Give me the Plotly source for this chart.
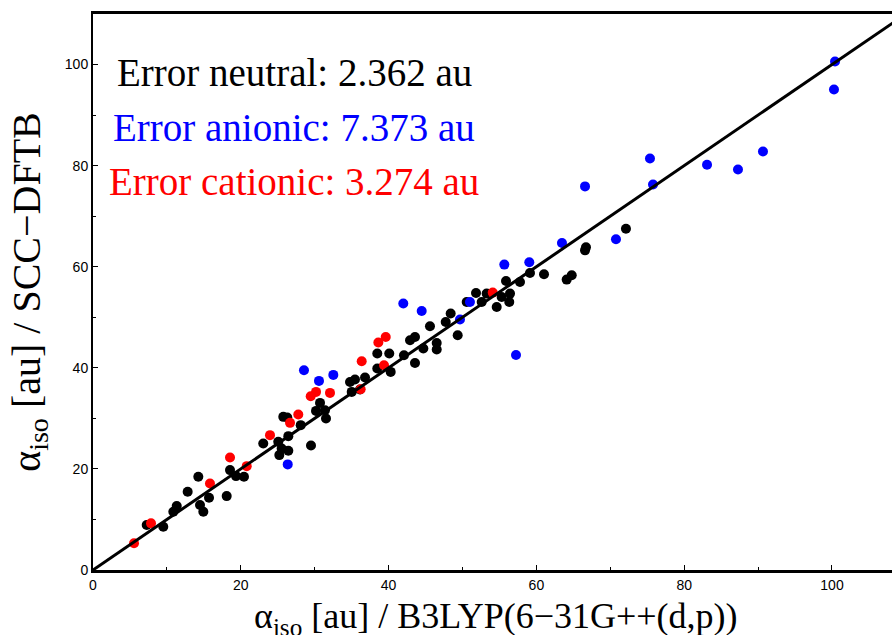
import plotly.graph_objects as go

# Neutral (black)
neutral_x = [7.27, 9.51, 10.87, 11.33, 12.81, 14.25, 14.48, 14.93, 15.70, 18.09, 18.54, 19.35, 20.43,
             23.04, 25.07, 25.53, 26.43, 25.21, 25.75, 26.29, 28.11, 26.43, 29.50, 30.72, 31.39, 30.18,
             31.53, 35.01, 36.13, 34.78, 35.45, 36.81, 38.47, 40.28, 38.47, 40.09, 42.08, 43.57, 42.90,
             43.57, 44.70, 46.51, 46.51, 45.60, 47.73, 48.40, 49.35, 50.57, 51.83, 53.27, 52.60, 54.63,
             55.30, 56.43, 56.33, 55.89, 57.78, 59.13, 61.03, 64.10, 64.78, 66.58, 66.71, 72.12]
neutral_y = [8.89, 8.56, 11.52, 12.65, 15.47, 18.44, 12.85, 11.52, 14.29, 14.62, 19.76, 18.58, 18.44,
             25.04, 25.36, 24.05, 23.58, 22.73, 30.30, 30.18, 28.66, 26.48, 24.64, 33.06, 31.62, 31.48,
             29.98, 35.24, 35.71, 37.21, 37.69, 38.08, 39.86, 39.19, 42.83, 42.83, 42.49, 40.97, 45.45,
             46.11, 43.81, 44.92, 43.62, 48.22, 49.07, 50.73, 46.44, 53.02, 54.80, 54.68, 53.02, 52.04,
             54.01, 54.68, 53.02, 57.17, 56.98, 58.75, 58.50, 57.45, 58.30, 63.24, 63.83, 67.51]

# Cationic (red)
cation_x = [5.55, 7.85, 15.83, 18.54, 20.80, 23.95, 26.66, 27.78, 29.46, 30.18, 32.07, 36.22, 36.36,
            39.38, 38.61, 39.61, 54.09]
cation_y = [5.28, 9.23, 17.13, 22.27, 20.55, 26.68, 29.11, 30.77, 34.39, 35.24, 35.04, 35.77, 41.30,
            40.51, 45.00, 46.11, 54.88]

# Anionic (blue)
anion_x = [100.41, 100.27, 90.66, 87.28, 83.09, 75.37, 75.78, 66.58, 70.77, 63.46, 59.04, 55.66, 51.01,
           49.66, 57.24, 44.48, 41.99, 28.55, 30.58, 32.52, 26.35]
anion_y = [100.59, 95.06, 82.81, 79.25, 80.16, 81.42, 76.28, 75.89, 65.42, 64.68, 60.87, 60.42, 53.02,
           49.55, 42.55, 51.24, 52.71, 39.53, 37.41, 38.60, 20.89]

diag = [0, 110]

labels = ["Error neutral: 2.362 au", "Error anionic: 7.373 au", "Error cationic: 3.274 au"]
label_colors = ["black", "#0000ff", "#ff0000"]
label_y = [98.4, 87.6, 76.9]

x_title = "α<sub>iso</sub> [au] / B3LYP(6−31G++(d,p))"
y_title = "α<sub>iso</sub> [au] / SCC−DFTB"

fig = go.Figure()
fig.add_trace(go.Scatter(x=neutral_x, y=neutral_y, mode="markers",
                         marker=dict(color="black", size=10, line=dict(width=0)), showlegend=False))
fig.add_trace(go.Scatter(x=cation_x, y=cation_y, mode="markers",
                         marker=dict(color="#ff0000", size=10, line=dict(width=0)), showlegend=False))
fig.add_trace(go.Scatter(x=anion_x, y=anion_y, mode="markers",
                         marker=dict(color="#0000ff", size=10, line=dict(width=0)), showlegend=False))
fig.add_trace(go.Scatter(x=diag, y=diag, mode="lines",
                         line=dict(color="black", width=3), showlegend=False))

for t, c, yy in zip(labels, label_colors, label_y):
    fig.add_annotation(x=27.2, y=yy, xref="x", yref="y", text=t, showarrow=False,
                       font=dict(family="Liberation Serif", size=39, color=c),
                       xanchor="center", yanchor="middle")

# x-axis title as annotation for precise placement
fig.add_annotation(x=0.504, y=-0.087, xref="paper", yref="paper", text=x_title, showarrow=False,
                   font=dict(family="Liberation Serif", size=36, color="black"),
                   xanchor="center", yanchor="middle")

tickfont = dict(family="Liberation Sans", size=14, color="black")
fig.update_xaxes(range=[0, 108.12], tickvals=[0, 20, 40, 60, 80, 100],
                 ticks="inside", ticklen=5, tickwidth=1, tickcolor="black",
                 minor=dict(tickvals=[10, 30, 50, 70, 90], ticks="inside", ticklen=3, tickcolor="black"),
                 showline=True, linecolor="black", linewidth=3, mirror=True,
                 showgrid=False, zeroline=False, tickfont=tickfont)
fig.update_yaxes(range=[0, 110], tickvals=[0, 20, 40, 60, 80, 100],
                 ticks="inside", ticklen=5, tickwidth=1, tickcolor="black",
                 minor=dict(tickvals=[10, 30, 50, 70, 90], ticks="inside", ticklen=3, tickcolor="black"),
                 showline=True, linecolor="black", linewidth=2, mirror=False,
                 showgrid=False, zeroline=False, tickfont=tickfont,
                 title=dict(text=y_title,
                            font=dict(family="Liberation Serif", size=40, color="black"), standoff=12))
fig.update_layout(width=892, height=635, margin=dict(l=93, r=0, t=14, b=65),
                  paper_bgcolor="white", plot_bgcolor="white")
fig.write_html("out.html")
